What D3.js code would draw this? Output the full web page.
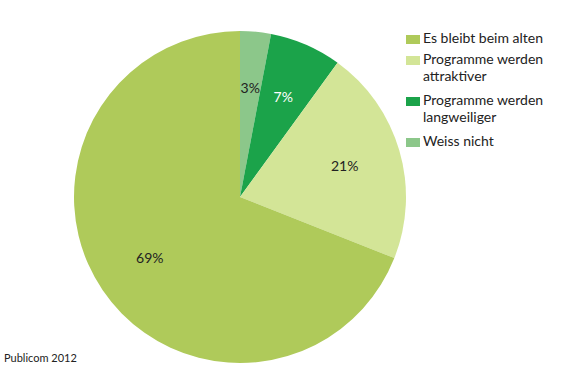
<!DOCTYPE html>
<html>
<head>
<meta charset="utf-8">
<script src="https://cdn.jsdelivr.net/npm/d3@7"></script>
<style>
  body { margin: 0; background: #fff; }
  text { font-family: Lato, "Open Sans", sans-serif; }
</style>
</head>
<body>
<div id="chart"></div>
<script>
// slice order clockwise from the top
const categories = ['Weiss nicht', 'Programme werden langweiliger', 'Programme werden attraktiver', 'Es bleibt beim alten'];
const values = [3, 7, 21, 69];
const colors = ['#8cc78a', '#1ba34a', '#d3e597', '#afca5a'];
const labelColors = ['#222', '#fff', '#222', '#222'];
// legend order
const legendItems = [
  { key: 'Es bleibt beim alten', lines: ['Es bleibt beim alten'] },
  { key: 'Programme werden attraktiver', lines: ['Programme werden', 'attraktiver'] },
  { key: 'Programme werden langweiliger', lines: ['Programme werden', 'langweiliger'] },
  { key: 'Weiss nicht', lines: ['Weiss nicht'] }
];
const source = 'Publicom 2012';

const width = 568, height = 378;
const cx = 240, cy = 197, radius = 166;

const svg = d3.select('#chart').append('svg')
  .attr('width', width).attr('height', height);

const color = d3.scaleOrdinal().domain(categories).range(colors);
const data = categories.map((c, i) => ({ label: c, value: values[i], textColor: labelColors[i] }));

const pie = d3.pie().sort(null).value(d => d.value);
const arc = d3.arc().innerRadius(0).outerRadius(radius);
const labelArc = d3.arc().innerRadius(109).outerRadius(109);

const g = svg.append('g').attr('transform', `translate(${cx}, ${cy})`);

g.selectAll('path').data(pie(data)).enter().append('path')
  .attr('d', arc)
  .attr('fill', d => color(d.data.label));

g.selectAll('text').data(pie(data)).enter().append('text')
  .attr('transform', d => `translate(${labelArc.centroid(d)})`)
  .attr('text-anchor', 'middle')
  .attr('dy', '0.35em')
  .attr('font-size', 14)
  .attr('fill', d => d.data.textColor)
  .text(d => d.data.value + '%');

// legend
const lineH = 17;
const legend = svg.append('g').attr('transform', 'translate(406, 35)');
let y = 0;
legendItems.forEach(item => {
  const row = legend.append('g').attr('transform', `translate(0, ${y})`);
  row.append('rect').attr('x', 0).attr('y', 0).attr('width', 14).attr('height', 9)
    .attr('fill', color(item.key));
  item.lines.forEach((l, i) => {
    row.append('text').attr('x', 17).attr('y', 8 + i * lineH)
      .attr('font-size', 14).attr('fill', '#222').text(l);
  });
  y += item.lines.length * lineH + (item.lines.length > 1 ? 7 : 4);
});

svg.append('text').attr('x', 4).attr('y', 362).attr('font-size', 11).attr('fill', '#222').text(source);
</script>
</body>
</html>
